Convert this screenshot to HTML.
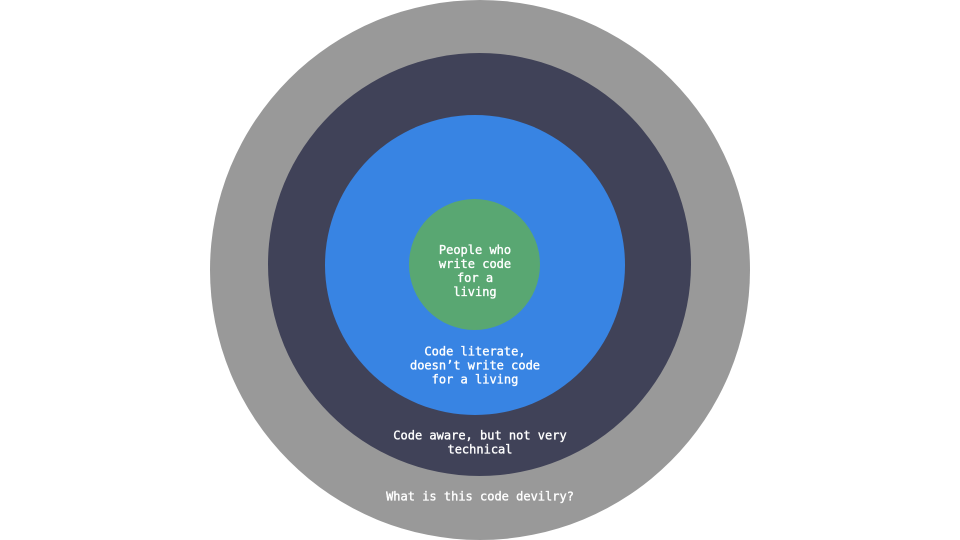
<!DOCTYPE html>
<html><head><meta charset="utf-8"><style>
html,body{margin:0;padding:0;background:#fff;width:960px;height:540px;overflow:hidden}
svg{display:block}
text{font-family:"DejaVu Sans Mono","Liberation Mono",monospace;font-size:12px;font-weight:normal;fill:#fff;stroke:#fff;stroke-width:0.35px;text-anchor:middle;dominant-baseline:central}
</style></head><body>
<svg width="960" height="540" viewBox="0 0 960 540" xmlns="http://www.w3.org/2000/svg">
<rect width="960" height="540" fill="#fff"/>
<circle cx="480" cy="270" r="270" fill="#999999"/>
<circle cx="479.5" cy="264.5" r="211.5" fill="#404258"/>
<circle cx="475" cy="265" r="150" fill="#3884e3"/>
<circle cx="474.5" cy="264.5" r="65.5" fill="#59a772"/>
<text x="475" y="250">People who</text>
<text x="475" y="264">write code</text>
<text x="475" y="278">for a</text>
<text x="475" y="292">living</text>
<text x="475" y="351.5">Code literate,</text>
<text x="475" y="365.5">doesn’t write code</text>
<text x="475" y="379.5">for a living</text>
<text x="480" y="435.5">Code aware, but not very</text>
<text x="480" y="449.5">technical</text>
<text x="480" y="496.5">What is this code devilry?</text>
</svg>
</body></html>
